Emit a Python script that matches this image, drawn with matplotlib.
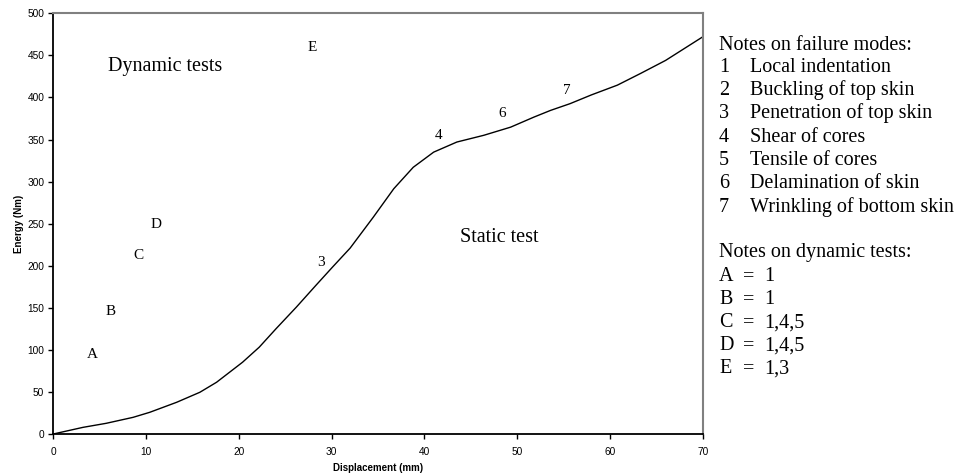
import matplotlib.pyplot as plt

# static test curve
disp = [0, 3.2, 5.7, 8.6, 10.4, 13.3, 15.8, 17.6, 19, 20.4, 22.2, 24, 26.2, 28.3,
        30.1, 32, 34.5, 36.7, 38.8, 41, 43.5, 46.4, 49.3, 51.8, 53.6, 55.7, 58,
        60.8, 63.3, 66, 68, 70]
energy = [0, 7.9, 12.7, 19.8, 25.8, 37.7, 49.6, 61.5, 73.4, 85.3, 103.2, 125,
          150.8, 176.6, 198.4, 221, 257.8, 291.5, 317, 335, 347, 355, 364.7,
          376.6, 384.6, 392.6, 403, 414.6, 428.5, 444, 458, 472]

# dynamic test letters
dyn_labels = ['A', 'B', 'C', 'D', 'E']
dyn_x = [4.2, 6.2, 9.2, 11.1, 27.9]
dyn_y = [95, 146, 212, 249, 459]

# failure mode numbers along the static curve
mode_labels = ['3', '4', '6', '7']
mode_x = [28.9, 41.5, 48.4, 55.4]
mode_y = [204, 355, 381, 408]

failure_modes = [('1', 'Local indentation'), ('2', 'Buckling of top skin'),
                 ('3', 'Penetration of top skin'), ('4', 'Shear of cores'),
                 ('5', 'Tensile of cores'), ('6', 'Delamination of skin'),
                 ('7', 'Wrinkling of bottom skin')]
dyn_notes = [('A', '1'), ('B', '1'), ('C', '1,4,5'), ('D', '1,4,5'), ('E', '1,3')]

W, H = 959, 474
fig = plt.figure(figsize=(W / 100, H / 100), dpi=100)
ax = fig.add_axes([53.3 / W, 1 - 434 / H, (702.7 - 53.3) / W, (434 - 13.3) / H])

ax.plot(disp, energy, color='black', lw=1.0)

serif = 'Liberation Serif'
for lab, x, y in zip(dyn_labels, dyn_x, dyn_y):
    ax.text(x, y, lab, ha='center', va='center', fontsize=11, family=serif)
for lab, x, y in zip(mode_labels, mode_x, mode_y):
    ax.text(x, y, lab, ha='center', va='center', fontsize=11, family=serif)
ax.text(12.1, 437, 'Dynamic tests', ha='center', va='center', fontsize=14.5, family=serif)
ax.text(48.1, 234, 'Static test', ha='center', va='center', fontsize=14.5, family=serif)

ax.set_xlim(0, 70)
ax.set_ylim(0, 500)
ax.set_xticks(range(0, 71, 10))
ax.set_yticks(range(0, 501, 50))
ax.tick_params(direction='out', length=3.5, width=1, labelsize=7.3)
ax.tick_params(axis='x', pad=6)
ax.tick_params(axis='y', pad=3)
for t in ax.get_xticklabels() + ax.get_yticklabels():
    t.set_family('Liberation Sans')
ax.set_xlabel('Displacement (mm)', fontsize=7, fontweight='bold', family='Liberation Sans', labelpad=4)
ax.set_ylabel('Energy (Nm)', fontsize=7, fontweight='bold', family='Liberation Sans', labelpad=2.5)

ax.spines['left'].set_linewidth(1.3)
ax.spines['bottom'].set_linewidth(1.3)
for s in ['top', 'right']:
    ax.spines[s].set_color('#808080')
    ax.spines[s].set_linewidth(1.5)

# notes at the right
def fy(py):
    return 1 - py / H

fs = 14.5
base = 6.8
fig.text(719 / W, fy(43.3 + base), 'Notes on failure modes:', fontsize=fs, family=serif, va='baseline')
for i, (num, txt) in enumerate(failure_modes):
    y = fy(65 + 23.3 * i + base)
    fig.text(719 / W, y, num, fontsize=fs, family=serif, va='baseline')
    fig.text(750 / W, y, txt, fontsize=fs, family=serif, va='baseline')

fig.text(719 / W, fy(250.7 + base), 'Notes on dynamic tests:', fontsize=fs, family=serif, va='baseline')
for i, (lab, val) in enumerate(dyn_notes):
    y = fy(274.3 + 23 * i + base)
    fig.text(719 / W, y, lab, fontsize=fs, family=serif, va='baseline')
    fig.text(749 / W, y, '=', fontsize=fs, family=serif, va='baseline', ha='center')
    fig.text(764 / W, y, val, fontsize=fs, family=serif, va='baseline')

fig.savefig('out.png', dpi=100)
